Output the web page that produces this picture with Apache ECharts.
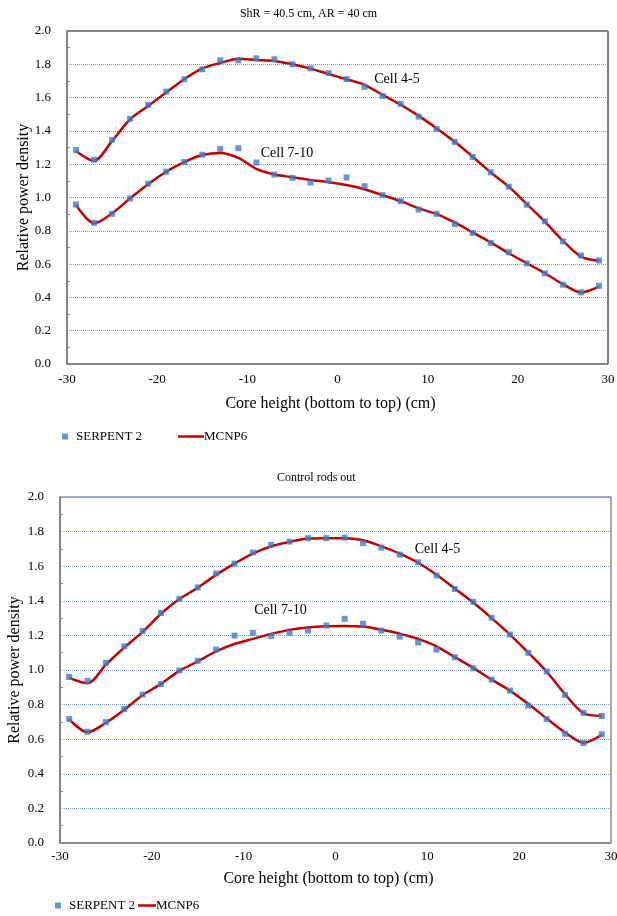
<!DOCTYPE html>
<html>
<head>
<meta charset="utf-8">
<script src="https://cdn.jsdelivr.net/npm/echarts@6/dist/echarts.min.js"></script>
<style>
  html, body { margin: 0; padding: 0; background: #fff; }
  #main { width: 617px; height: 916px; }
</style>
</head>
<body>
<div id="main"></div>
<script>
// core height positions (cm)
const heights = [-29, -27, -25, -23, -21, -19, -17, -15, -13, -11, -9, -7, -5, -3, -1,
  1, 3, 5, 7, 9, 11, 13, 15, 17, 19, 21, 23, 25, 27, 29];

// ShR = 40.5 cm, AR = 40 cm
const serpTop45 = [1.285, 1.227, 1.346, 1.472, 1.556, 1.636, 1.71, 1.77, 1.824, 1.824, 1.836, 1.83, 1.80, 1.776, 1.747,
  1.711, 1.665, 1.61, 1.562, 1.486, 1.412, 1.334, 1.243, 1.151, 1.065, 0.957, 0.857, 0.736, 0.652, 0.622];
const mcnpTop45 = [1.28, 1.22, 1.34, 1.47, 1.55, 1.63, 1.71, 1.775, 1.808, 1.834, 1.826, 1.82, 1.80, 1.774, 1.742,
  1.71, 1.677, 1.616, 1.558, 1.49, 1.415, 1.335, 1.245, 1.15, 1.065, 0.96, 0.855, 0.74, 0.645, 0.62];
const serpTop710 = [0.958, 0.848, 0.902, 0.994, 1.083, 1.155, 1.213, 1.257, 1.292, 1.296, 1.21, 1.138, 1.118, 1.09, 1.102,
  1.12, 1.068, 1.014, 0.978, 0.928, 0.902, 0.84, 0.787, 0.727, 0.671, 0.604, 0.544, 0.476, 0.43, 0.47];
const mcnpTop710 = [0.955, 0.845, 0.905, 0.995, 1.08, 1.155, 1.213, 1.255, 1.268, 1.238, 1.172, 1.138, 1.122, 1.105, 1.092,
  1.075, 1.05, 1.014, 0.978, 0.935, 0.9, 0.85, 0.79, 0.73, 0.665, 0.605, 0.545, 0.48, 0.43, 0.465];

// Control rods out
const serpBot45 = [0.96, 0.937, 1.041, 1.137, 1.226, 1.33, 1.412, 1.477, 1.558, 1.615, 1.679, 1.723, 1.742, 1.762, 1.762,
  1.765, 1.733, 1.708, 1.667, 1.623, 1.546, 1.468, 1.394, 1.302, 1.205, 1.099, 0.991, 0.856, 0.752, 0.734];
const mcnpBot45 = [0.955, 0.923, 1.031, 1.13, 1.22, 1.325, 1.41, 1.475, 1.55, 1.615, 1.673, 1.715, 1.74, 1.76, 1.762,
  1.762, 1.75, 1.715, 1.673, 1.62, 1.55, 1.47, 1.39, 1.30, 1.205, 1.10, 0.99, 0.86, 0.75, 0.735];
const serpBot710 = [0.717, 0.643, 0.699, 0.775, 0.858, 0.919, 0.997, 1.053, 1.118, 1.199, 1.215, 1.197, 1.215, 1.228, 1.257,
  1.296, 1.267, 1.228, 1.193, 1.159, 1.118, 1.074, 1.01, 0.944, 0.881, 0.794, 0.716, 0.631, 0.578, 0.628];
const mcnpBot710 = [0.715, 0.64, 0.695, 0.77, 0.855, 0.92, 0.995, 1.05, 1.108, 1.15, 1.18, 1.209, 1.232, 1.246, 1.253,
  1.255, 1.251, 1.232, 1.21, 1.18, 1.137, 1.074, 1.012, 0.944, 0.881, 0.803, 0.72, 0.639, 0.58, 0.626];

const titles = ['ShR = 40.5 cm, AR = 40 cm', 'Control rods out'];
const xTicks = [-30, -20, -10, 0, 10, 20, 30];
const yTicks = [0, 0.2, 0.4, 0.6, 0.8, 1.0, 1.2, 1.4, 1.6, 1.8, 2.0];

// where the "Cell" notes sit, in data units
const notesTop = [[6.6, 1.71, 'Cell 4-5'], [-5.6, 1.267, 'Cell 7-10']];
const notesBot = [[11.1, 1.70, 'Cell 4-5'], [-6.0, 1.347, 'Cell 7-10']];

const FONT = '"Liberation Serif", "Times New Roman", serif';
const BLUE = '#3d7dc8';
const RED = '#c00000';

const zip = (xs, ys) => xs.map((x, i) => [x, ys[i]]);

function xAxis(idx, margin, gap) {
  return {
    type: 'value', gridIndex: idx,
    min: xTicks[0], max: xTicks[xTicks.length - 1], interval: 10,
    name: 'Core height (bottom to top) (cm)', nameLocation: 'middle', nameGap: gap,
    nameMoveOverlap: false,
    nameTextStyle: { fontFamily: FONT, fontSize: 16, color: '#000', padding: [0, 14, 0, 0] },
    axisLine: { onZero: false, lineStyle: { color: '#868686', width: 1.5 } },
    axisTick: { show: false },
    splitLine: { show: false },
    axisLabel: { fontFamily: FONT, fontSize: 13, color: '#000', margin: margin }
  };
}

function yAxis(idx, gap, width) {
  return {
    type: 'value', gridIndex: idx,
    min: yTicks[0], max: yTicks[yTicks.length - 1], interval: 0.2,
    name: 'Relative power density', nameLocation: 'middle', nameGap: gap,
    nameMoveOverlap: false,
    nameTextStyle: { fontFamily: FONT, fontSize: 16, color: '#000' },
    axisLine: { show: true, onZero: false, lineStyle: { color: '#868686', width: width } },
    axisTick: { show: true, inside: true, length: 0 },
    minorTick: { show: true, splitNumber: 2, length: 3, lineStyle: { color: '#868686' } },
    splitLine: { lineStyle: { color: '#6f9bdc', type: 'dotted', width: 1 } },
    axisLabel: { fontFamily: FONT, fontSize: 13, color: '#000', margin: 16,
      formatter: v => v.toFixed(1) }
  };
}

function notes(list) {
  return {
    silent: true,
    symbol: 'circle', symbolSize: 1,
    itemStyle: { color: 'rgba(0,0,0,0)' },
    data: list.map(n => ({
      coord: [n[0], n[1]],
      label: { show: true, position: 'inside', formatter: n[2],
        fontFamily: FONT, fontSize: 14, color: '#000' }
    }))
  };
}

function serp(idx, ys) {
  return { name: 'SERPENT 2', type: 'scatter', xAxisIndex: idx, yAxisIndex: idx,
    data: zip(heights, ys), symbol: 'rect', symbolSize: 6,
    itemStyle: { color: BLUE }, z: 3 };
}

function mcnp(idx, ys, noteList) {
  return { name: 'MCNP6', type: 'line', xAxisIndex: idx, yAxisIndex: idx,
    data: zip(heights, ys), smooth: 0.3, symbol: 'none',
    lineStyle: { color: RED, width: 2.5 }, itemStyle: { color: RED }, z: 2,
    markPoint: noteList ? notes(noteList) : undefined };
}

const legendText = { fontFamily: FONT, fontSize: 13, color: '#000' };

const chartDom = document.getElementById('main');
const myChart = echarts.init(chartDom, null, { renderer: 'canvas' });

const option = {
  animation: false,
  backgroundColor: '#fff',
  title: [
    { text: titles[0], left: 'center', top: 3,
      textStyle: { fontFamily: FONT, fontSize: 12, fontWeight: 'normal', color: '#000' } },
    { text: titles[1], left: 272, top: 467,
      textStyle: { fontFamily: FONT, fontSize: 12, fontWeight: 'normal', color: '#000' } }
  ],
  legend: [
    { data: ['SERPENT 2'], left: 57, top: 425, icon: 'rect', itemWidth: 6, itemHeight: 6,
      textStyle: Object.assign({ padding: [0, 0, 0, 3] }, legendText) },
    { data: ['MCNP6'], left: 173, top: 425, icon: 'rect', itemWidth: 26, itemHeight: 2.5,
      textStyle: Object.assign({ padding: [0, 0, 0, -5] }, legendText) },
    { data: ['SERPENT 2'], left: 50, top: 894, icon: 'rect', itemWidth: 6, itemHeight: 6,
      textStyle: Object.assign({ padding: [0, 0, 0, 3] }, legendText) },
    { data: ['MCNP6'], left: 133, top: 894, icon: 'rect', itemWidth: 18, itemHeight: 2.5,
      textStyle: Object.assign({ padding: [0, 0, 0, -5] }, legendText) }
  ],
  grid: [
    { left: 67, right: 9, top: 31, height: 333, show: true, outerBoundsMode: 'none',
      borderColor: '#000', borderWidth: 1, backgroundColor: 'transparent' },
    { left: 60, right: 6, top: 497, height: 346, show: true, outerBoundsMode: 'none',
      borderColor: '#555', borderWidth: 1, backgroundColor: 'transparent' }
  ],
  xAxis: [xAxis(0, 9, 32), xAxis(1, 7, 28)],
  yAxis: [yAxis(0, 35, 1.5), yAxis(1, 37, 2)],
  series: [
    mcnp(0, mcnpTop45, [notesTop[0]]),
    mcnp(0, mcnpTop710, [notesTop[1]]),
    serp(0, serpTop45),
    serp(0, serpTop710),
    mcnp(1, mcnpBot45, [notesBot[0]]),
    mcnp(1, mcnpBot710, [notesBot[1]]),
    serp(1, serpBot45),
    serp(1, serpBot710)
  ]
};

option && myChart.setOption(option);
</script>
</body>
</html>
